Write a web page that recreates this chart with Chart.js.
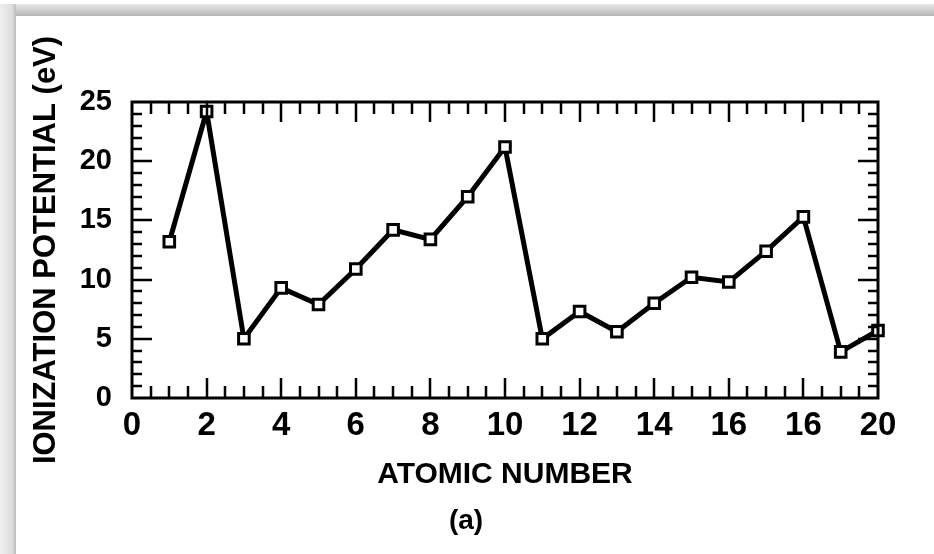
<!DOCTYPE html>
<html>
<head>
<meta charset="utf-8">
<script src="https://cdn.jsdelivr.net/npm/chart.js@4/dist/chart.umd.min.js"></script>
<style>
  html, body { margin: 0; padding: 0; background: #fff; }
  #wrap { position: relative; width: 934px; height: 554px; overflow: hidden; background: #fff; }
  .band-top { position: absolute; left: 0; top: 4px; width: 934px; height: 12px; background: linear-gradient(#e8e8e8, #b6b6b6); }
  .band-left { position: absolute; left: 0; top: 4px; width: 16px; height: 550px; background: linear-gradient(to right, #efefef, #dedede 75%, #bcbcbc); }
  canvas { position: absolute; left: 0; top: 0; }
  #caption { position: absolute; left: 436px; top: 504px; width: 60px; text-align: center; color: #000;
    font: bold 28px "Liberation Sans Narrow", "Liberation Sans", Arial, sans-serif; }
</style>
</head>
<body>
<div id="wrap">
  <div class="band-top"></div>
  <div class="band-left"></div>
  <canvas id="ipChart" width="934" height="554"></canvas>
  <div id="caption">(a)</div>
</div>
<script>
const atomicNumbers = [1, 2, 3, 4, 5, 6, 7, 8, 9, 10, 11, 12, 13, 14, 15, 16, 17, 18, 19, 20];
const ionizationEV = [13.2, 24.2, 5.0, 9.3, 7.9, 10.9, 14.2, 13.4, 17.0, 21.2, 5.0, 7.3, 5.6, 8.0, 10.2, 9.8, 12.4, 15.3, 3.9, 5.7];
const xTickLabels = ['0', '2', '4', '6', '8', '10', '12', '14', '16', '16', '20'];
const yTickLabels = ['0', '5', '10', '15', '20', '25'];

const narrow = '"Liberation Sans Narrow", "Liberation Sans", Arial, sans-serif';
const wide = '"Liberation Sans", Arial, sans-serif';

// frame + inward ticks on all four sides
const frameTicks = {
  id: 'frameTicks',
  afterDraw(chart) {
    const { ctx, chartArea: a } = chart;
    const xs = chart.scales.x, ys = chart.scales.y;
    ctx.save();
    ctx.strokeStyle = '#000';
    ctx.lineCap = 'butt';

    ctx.lineWidth = 2.5;
    for (let v = 0.5; v < 20; v += 0.5) {
      const px = Math.round(xs.getPixelForValue(v));
      const len = v % 2 === 0 ? 20 : 12;
      ctx.beginPath();
      ctx.moveTo(px, a.bottom); ctx.lineTo(px, a.bottom - len);
      ctx.moveTo(px, a.top); ctx.lineTo(px, a.top + len);
      ctx.stroke();
    }
    for (let v = 1; v < 25; v += 1) {
      const py = Math.round(ys.getPixelForValue(v));
      const len = v % 5 === 0 ? 20 : 10;
      ctx.beginPath();
      ctx.moveTo(a.left, py); ctx.lineTo(a.left + len, py);
      ctx.moveTo(a.right, py); ctx.lineTo(a.right - len, py);
      ctx.stroke();
    }

    ctx.lineWidth = 3;
    ctx.strokeRect(a.left, a.top, a.right - a.left, a.bottom - a.top);
    ctx.restore();
  }
};

new Chart(document.getElementById('ipChart'), {
  type: 'line',
  data: {
    datasets: [{
      data: atomicNumbers.map((z, i) => ({ x: z, y: ionizationEV[i] })),
      borderColor: '#000',
      borderWidth: 5,
      tension: 0,
      pointStyle: 'rect',
      pointRadius: 7.5,
      pointBorderWidth: 3,
      pointBorderColor: '#000',
      pointBackgroundColor: '#fff',
      clip: false
    }]
  },
  options: {
    responsive: false,
    animation: false,
    devicePixelRatio: 1,
    layout: { padding: { left: 0, right: 56, top: 102, bottom: 0 } },
    plugins: { legend: { display: false }, tooltip: { enabled: false } },
    scales: {
      x: {
        type: 'linear', min: 0, max: 20,
        afterFit(s) { s.height = 156; },
        grid: { display: false, drawTicks: false },
        border: { display: false },
        ticks: {
          stepSize: 2, padding: 8, color: '#000', maxRotation: 0,
          font: { family: narrow, size: 33, weight: 'bold' },
          callback: v => xTickLabels[Math.round(v / 2)]
        },
        title: {
          display: true, text: 'ATOMIC NUMBER', color: '#000',
          font: { family: wide, size: 30, weight: 'bold' },
          padding: { top: 0, bottom: 61 }
        }
      },
      y: {
        min: 0, max: 25,
        afterFit(s) { s.width = 132; },
        grid: { display: false, drawTicks: false },
        border: { display: false },
        ticks: {
          stepSize: 5, padding: 20, color: '#000',
          font: { family: narrow, size: 29, weight: 'bold' },
          callback: v => yTickLabels[Math.round(v / 5)]
        },
        title: {
          display: true, text: 'IONIZATION POTENTIAL (eV)', color: '#000',
          font: { family: wide, size: 31, weight: 'bold' },
          padding: { top: 28, bottom: 0 }
        }
      }
    }
  },
  plugins: [frameTicks]
});
</script>
</body>
</html>
